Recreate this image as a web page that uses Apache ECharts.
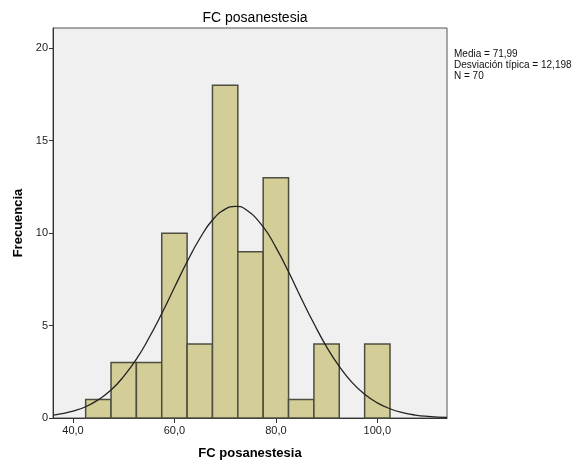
<!DOCTYPE html>
<html><head><meta charset="utf-8">
<script src="https://cdn.jsdelivr.net/npm/echarts@6/dist/echarts.min.js"></script>
<style>html,body{margin:0;padding:0;background:#fff}#c{width:578px;height:468px}</style>
</head><body><div id="c"></div>
<script>
// Histogram bins (lower edges) and frequencies
const binStarts = [42.5, 47.5, 52.5, 57.5, 62.5, 67.5, 72.5, 77.5, 82.5, 87.5, 92.5, 97.5];
const binWidth = 5;
const counts = [1, 3, 3, 10, 4, 18, 9, 13, 1, 4, 0, 4];
// Normal curve
const curveX = [36.06, 37.5, 40, 42.5, 45, 47.5, 50, 52.5, 55, 57.5, 60, 62.5, 65, 67.5, 70, 72, 74, 77.5, 80, 82.5, 85, 87.5, 90, 92.5, 95, 97.5, 100, 102.5, 105, 107.5, 110, 113.74];
const curveY = [0.15, 0.22, 0.37, 0.61, 0.99, 1.51, 2.25, 3.18, 4.34, 5.65, 7.06, 8.45, 9.71, 10.71, 11.30, 11.45, 11.29, 10.34, 9.23, 7.91, 6.48, 5.11, 3.85, 2.79, 1.93, 1.28, 0.82, 0.50, 0.29, 0.16, 0.09, 0.03];
const xTicks = [40, 60, 80, 100];
const yTicks = [0, 5, 10, 15, 20];
const statsLines = ['Media = 71,99', 'Desviación típica = 12,198', 'N = 70'];

const chart = echarts.init(document.getElementById('c'));
const font = 'Liberation Sans, Arial, sans-serif';
const fmt = v => v.toFixed(1).replace('.', ',');

chart.setOption({
  animation: false,
  backgroundColor: '#ffffff',
  title: {
    text: 'FC posanestesia', left: 250, top: 6, textAlign: 'center',
    textStyle: { fontFamily: font, fontSize: 14, fontWeight: 'normal', color: '#000' }
  },
  grid: { left: 53, right: 131, top: 28, bottom: 50, show: true, backgroundColor: '#f0f0f0', borderColor: '#555', borderWidth: 1 },
  xAxis: {
    type: 'value', min: 36.06, max: 113.74,
    name: 'FC posanestesia', nameLocation: 'middle', nameGap: 29,
    nameTextStyle: { fontFamily: font, fontSize: 13, fontWeight: 'bold', color: '#000' },
    axisLine: { show: true, onZero: false, lineStyle: { color: '#333', width: 1 } },
    axisTick: { show: true, length: 5, customValues: xTicks, lineStyle: { color: '#333' } },
    axisLabel: { customValues: xTicks, formatter: v => fmt(v), fontFamily: font, fontSize: 11, color: '#222', margin: 7 },
    splitLine: { show: false }
  },
  yAxis: {
    type: 'value', min: 0, max: 21.1,
    name: 'Frecuencia', nameLocation: 'middle', nameGap: 27,
    nameTextStyle: { fontFamily: font, fontSize: 13, fontWeight: 'bold', color: '#000' },
    axisLine: { show: true, lineStyle: { color: '#333', width: 1 } },
    axisTick: { show: true, length: 4, customValues: yTicks, lineStyle: { color: '#333' } },
    axisLabel: { customValues: yTicks, fontFamily: font, fontSize: 11, color: '#222', margin: 5 },
    splitLine: { show: false }
  },
  series: [
    {
      type: 'custom',
      data: binStarts.map((s, i) => [s, s + binWidth, counts[i]]),
      encode: { x: [0, 1], y: 2 },
      renderItem: (params, api) => {
        const c = api.value(2);
        if (!c) return null;
        const p0 = api.coord([api.value(0), 0]);
        const p1 = api.coord([api.value(1), c]);
        return {
          type: 'rect',
          shape: { x: p0[0], y: p1[1], width: p1[0] - p0[0], height: p0[1] - p1[1] },
          style: { fill: '#d3ce97', stroke: '#4d4d40', lineWidth: 1.5 }
        };
      },
      z: 2
    },
    {
      type: 'line', smooth: true, symbol: 'none',
      data: curveX.map((x, i) => [x, curveY[i]]),
      lineStyle: { color: '#222', width: 1.3 },
      z: 3
    }
  ],
  graphic: [{
    type: 'text', left: 454, top: 49,
    style: { text: statsLines.join('\n'), fontFamily: font, fontSize: 10, lineHeight: 11, fill: '#111' }
  }]
});
</script></body></html>
